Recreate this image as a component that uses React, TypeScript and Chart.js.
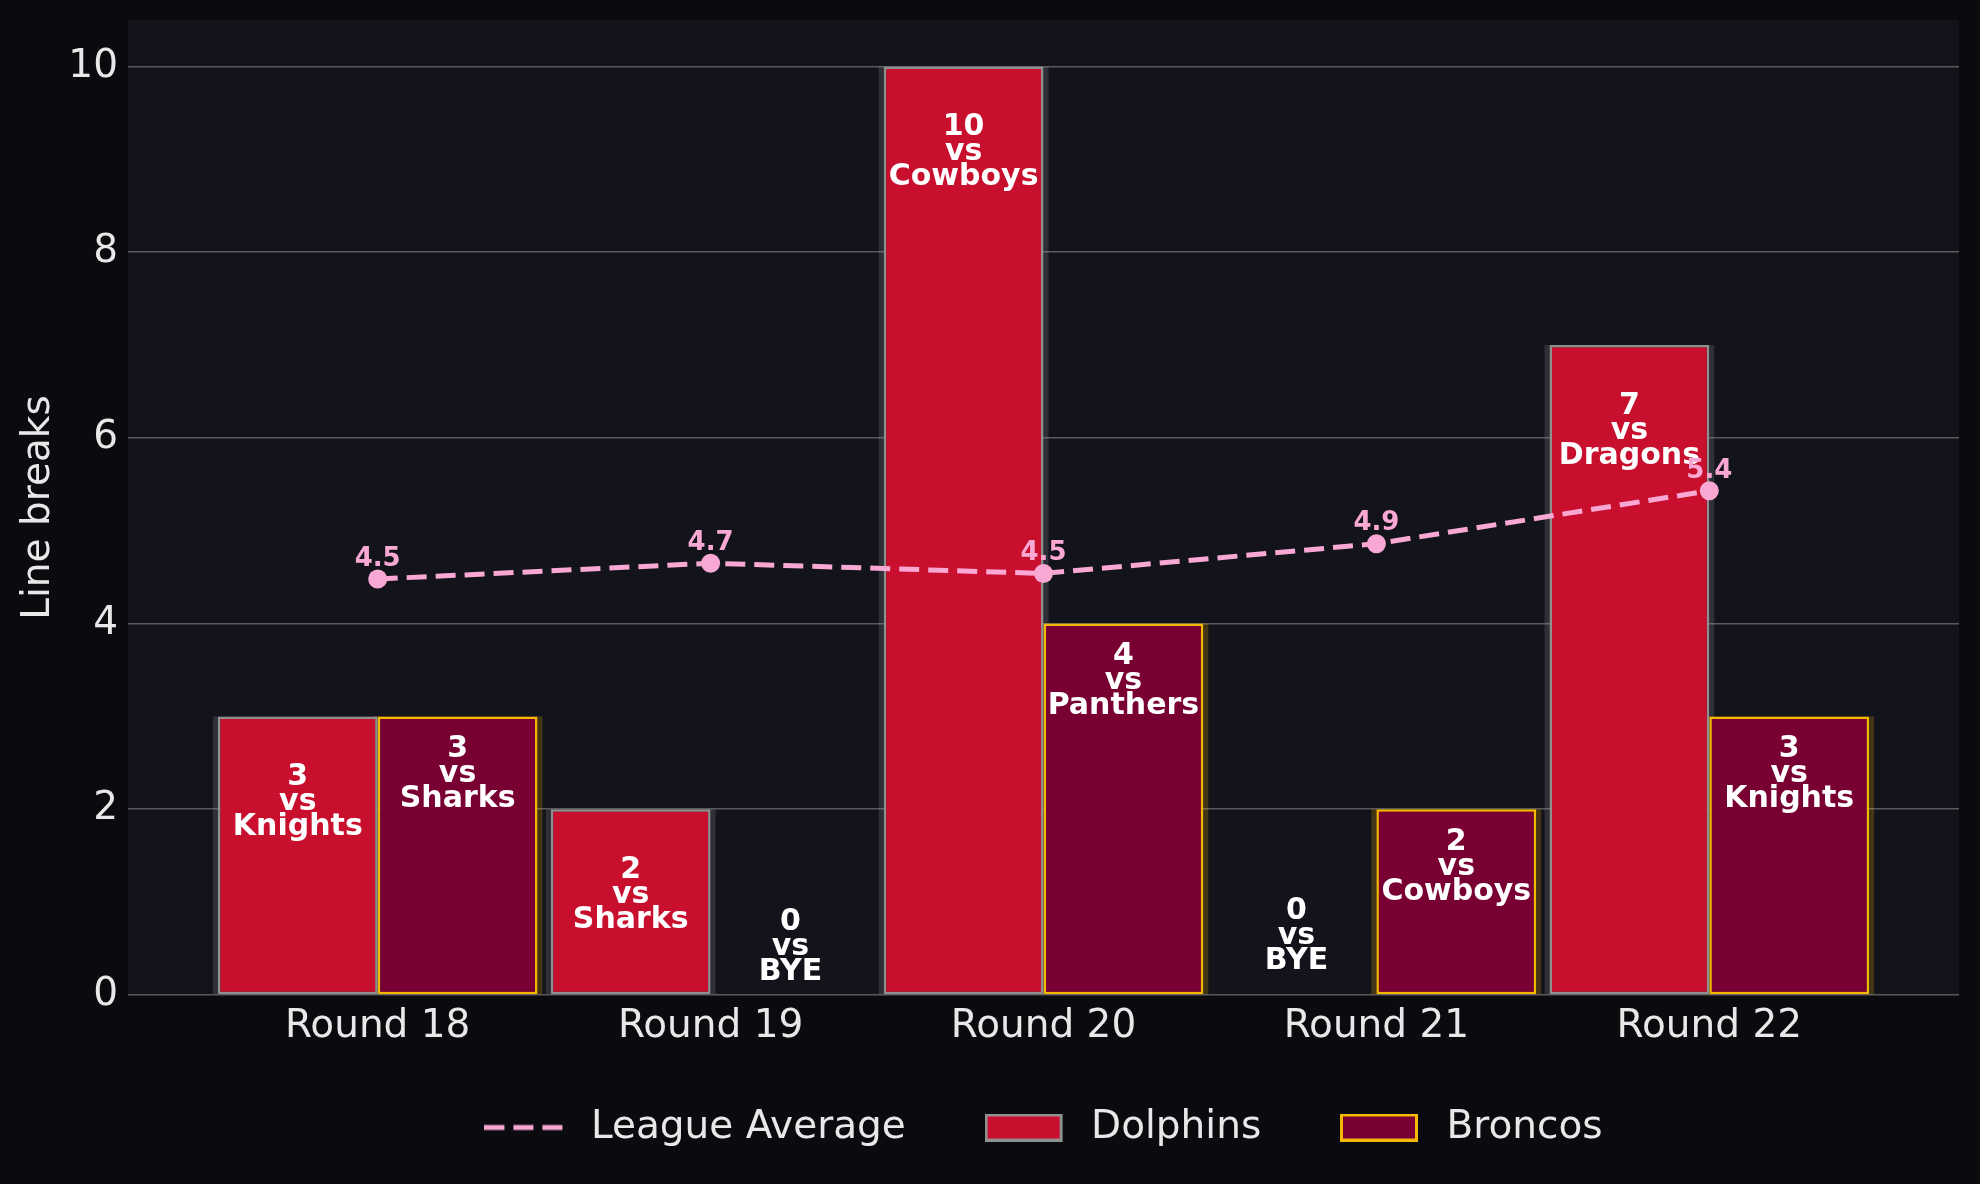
import React, { useEffect, useRef } from "react";
import { Chart, registerables } from "chart.js";

Chart.register(...registerables);

const rounds = ["Round 18", "Round 19", "Round 20", "Round 21", "Round 22"];
const dolphins = [3, 2, 10, 0, 7];
const broncos = [3, 0, 4, 2, 3];
const dolphinsOpp = ["Knights", "Sharks", "Cowboys", "BYE", "Dragons"];
const broncosOpp = ["Sharks", "BYE", "Panthers", "Cowboys", "Knights"];
const leagueAvg = [4.48, 4.65, 4.54, 4.86, 5.43];
const legendLabels = ["League Average", "Dolphins", "Broncos"];

const FONT = "'DejaVu Sans', 'Liberation Sans', sans-serif";
const FS = 39;
const PINK = "#f9a8d4";
const D_FILL = "#c8102e";
const D_EDGE = "#8f8f8f";
const B_FILL = "#780032";
const B_EDGE = "#f5b800";
const TEXT = "#e8e8e8";
const OUTER_BG = "#0b0b0f";
const PLOT_BG = "#12131b";

function makeBoxImg(fill: string, edge: string) {
  const c = document.createElement("canvas");
  c.width = 87;
  c.height = 28;
  const ctx = c.getContext("2d")!;
  ctx.fillStyle = edge;
  ctx.fillRect(0, 0, 78, 28);
  ctx.fillStyle = fill;
  ctx.fillRect(3, 3, 72, 22);
  return c;
}

function makeLineImg() {
  const c = document.createElement("canvas");
  c.width = 87;
  c.height = 28;
  const ctx = c.getContext("2d")!;
  ctx.strokeStyle = PINK;
  ctx.lineWidth = 5;
  ctx.setLineDash([20, 9]);
  ctx.beginPath();
  ctx.moveTo(0, 14);
  ctx.lineTo(78, 14);
  ctx.stroke();
  return c;
}

const bgPlugin = {
  id: "bgPlugin",
  beforeDraw(chart: any) {
    const { ctx, chartArea } = chart;
    ctx.save();
    ctx.fillStyle = OUTER_BG;
    ctx.fillRect(0, 0, chart.width, chart.height);
    ctx.fillStyle = PLOT_BG;
    ctx.fillRect(chartArea.left, chartArea.top, chartArea.right - chartArea.left, chartArea.bottom - chartArea.top);
    ctx.restore();
  },
};

const shadowPlugin = {
  id: "shadowPlugin",
  beforeDatasetsDraw(chart: any) {
    const ctx = chart.ctx;
    ctx.save();
    [1, 2].forEach((di) => {
      const meta = chart.getDatasetMeta(di);
      ctx.fillStyle = di === 1 ? "rgba(150,150,155,0.22)" : "rgba(245,184,0,0.22)";
      meta.data.forEach((el: any) => {
        const h = el.base - el.y;
        if (h <= 0.5) return;
        ctx.fillRect(el.x - el.width / 2 - 5, el.y, el.width + 10, h);
      });
    });
    ctx.restore();
  },
};

const labelPlugin = {
  id: "labelPlugin",
  afterDatasetDraw(chart: any, args: any) {
    const di = args.index;
    if (di !== 1 && di !== 2) return;
    const ctx = chart.ctx;
    const meta = chart.getDatasetMeta(di);
    const vals = di === 1 ? dolphins : broncos;
    const opps = di === 1 ? dolphinsOpp : broncosOpp;
    ctx.save();
    ctx.fillStyle = "#ffffff";
    ctx.font = `bold 30px ${FONT}`;
    ctx.textAlign = "center";
    ctx.textBaseline = "middle";
    meta.data.forEach((el: any, i: number) => {
      let cy: number;
      if (vals[i] > 0) cy = el.y + (di === 1 ? 86 : 58);
      else cy = el.base - (di === 1 ? 59 : 48);
      const lines = [String(vals[i]), "vs", opps[i]];
      lines.forEach((t, k) => ctx.fillText(t, el.x, cy + (k - 1) * 25));
    });
    ctx.restore();
  },
  afterDatasetsDraw(chart: any) {
    const ctx = chart.ctx;
    const meta = chart.getDatasetMeta(0);
    ctx.save();
    ctx.fillStyle = PINK;
    ctx.font = `bold 26px ${FONT}`;
    ctx.textAlign = "center";
    ctx.textBaseline = "middle";
    meta.data.forEach((el: any, i: number) => {
      ctx.fillText(leagueAvg[i].toFixed(1), el.x, el.y - 20);
    });
    ctx.restore();
  },
};

export default function App() {
  const ref = useRef<HTMLCanvasElement | null>(null);
  useEffect(() => {
    document.body.style.margin = "0";
    document.body.style.background = OUTER_BG;
    const canvas = ref.current!;
    const imgs = [makeLineImg(), makeBoxImg(D_FILL, D_EDGE), makeBoxImg(B_FILL, B_EDGE)];
    const chart = new Chart(canvas, {
      type: "bar",
      data: {
        datasets: [
          {
            type: "line",
            label: legendLabels[0],
            data: leagueAvg.map((v, i) => ({ x: i, y: v })),
            borderColor: PINK,
            backgroundColor: PINK,
            borderWidth: 5,
            borderDash: [20, 9],
            pointRadius: 9.5,
            pointBackgroundColor: PINK,
            pointBorderWidth: 0,
            tension: 0,
            order: 0,
          } as any,
          {
            type: "bar",
            label: legendLabels[1],
            data: dolphins.map((v, i) => ({ x: i, y: v })),
            backgroundColor: D_FILL,
            borderColor: D_EDGE,
            borderWidth: 2.5,
            borderSkipped: false,
            categoryPercentage: 0.96,
            barPercentage: 1.0,
            order: 1,
          },
          {
            type: "bar",
            label: legendLabels[2],
            data: broncos.map((v, i) => ({ x: i, y: v })),
            backgroundColor: B_FILL,
            borderColor: B_EDGE,
            borderWidth: 2.5,
            borderSkipped: false,
            categoryPercentage: 0.96,
            barPercentage: 1.0,
            order: 1,
          },
        ],
      },
      options: {
        animation: false,
        responsive: false,
        devicePixelRatio: 1,
        layout: { padding: { top: 20, right: 21, bottom: 27, left: 0 } },
        plugins: {
          tooltip: { enabled: false },
          legend: {
            position: "bottom",
            fullSize: false,
            labels: {
              usePointStyle: true,
              pointStyleWidth: 87,
              boxHeight: 28,
              padding: 54,
              color: TEXT,
              font: { family: FONT, size: FS },
              generateLabels: () =>
                legendLabels.map((t, i) => ({
                  text: i < legendLabels.length - 1 ? t + "  " : t,
                  pointStyle: imgs[i],
                  datasetIndex: i,
                  hidden: false,
                  fontColor: TEXT,
                  lineWidth: 0,
                })) as any,
            },
          },
        },
        scales: {
          x: {
            type: "linear",
            min: -0.75,
            max: 4.75,
            offset: false,
            grid: { display: false, drawTicks: false },
            border: { display: false },
            ticks: {
              stepSize: 1,
              includeBounds: false,
              padding: 8,
              color: TEXT,
              font: { family: FONT, size: FS },
              autoSkip: false,
              maxRotation: 0,
              callback: (v: any) => (Number.isInteger(v) && rounds[v] ? rounds[v] : ""),
            },
            afterFit: (scale: any) => {
              scale.height = 59;
              scale.paddingLeft = 0;
              scale.paddingRight = 0;
              scale.paddingTop = 0;
              scale.paddingBottom = 0;
            },
          },
          y: {
            min: 0,
            max: 10.5,
            grid: { color: "#5a5a5a", lineWidth: 1.6, drawTicks: false },
            border: { display: false },
            ticks: {
              stepSize: 2,
              includeBounds: false,
              padding: 10,
              color: TEXT,
              font: { family: FONT, size: FS },
            },
            title: {
              display: true,
              text: "Line breaks",
              color: TEXT,
              font: { family: FONT, size: FS },
              padding: { top: 15, bottom: 0 },
            },
            afterFit: (scale: any) => {
              scale.width = 128;
              scale.paddingTop = 0;
              scale.paddingBottom = 0;
              scale.paddingLeft = 0;
              scale.paddingRight = 0;
            },
          },
        },
      } as any,
      plugins: [bgPlugin, shadowPlugin, labelPlugin],
    });
    return () => chart.destroy();
  }, []);
  return <canvas ref={ref} width={1980} height={1184} style={{ display: "block", width: 1980, height: 1184 }} />;
}
